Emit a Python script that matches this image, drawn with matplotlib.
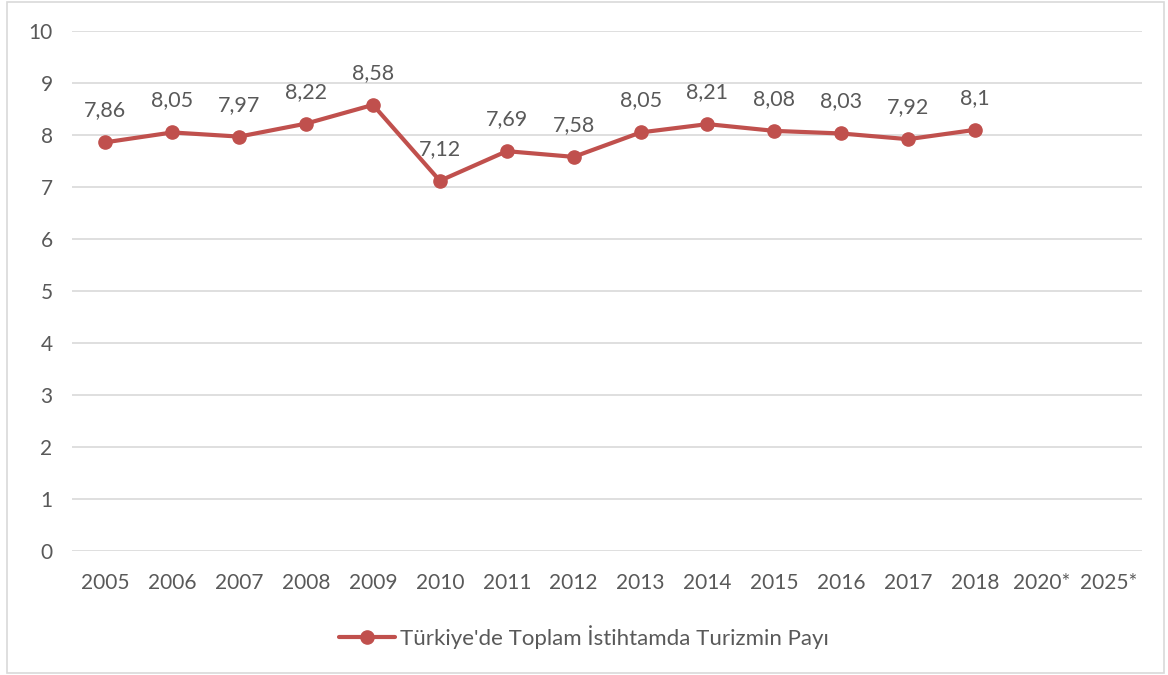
import matplotlib
matplotlib.use("Agg")
import matplotlib.pyplot as plt
import numpy as np
from matplotlib.patches import Rectangle

categories = ["2005", "2006", "2007", "2008", "2009", "2010", "2011", "2012",
              "2013", "2014", "2015", "2016", "2017", "2018", "2020*", "2025*"]
values = [7.86, 8.05, 7.97, 8.22, 8.58, 7.12, 7.69, 7.58,
          8.05, 8.21, 8.08, 8.03, 7.92, 8.1]
labels = ["7,86", "8,05", "7,97", "8,22", "8,58", "7,12", "7,69", "7,58",
          "8,05", "8,21", "8,08", "8,03", "7,92", "8,1"]
series_name = "Türkiye'de Toplam İstihtamda Turizmin Payı"

LINE = "#C0504D"
TEXT = "#595959"
GRID = "#D9D9D9"

plt.rcParams["font.family"] = ["Lato", "DejaVu Sans"]

fig = plt.figure(figsize=(11.68, 6.75), dpi=100)
ax = fig.add_axes([0.0616, 0.1837, 0.9164, 0.7703])

x = np.arange(len(values))
ax.plot(x, values, "-o", color=LINE, linewidth=3.0, markersize=9.5,
        solid_capstyle="round", label=series_name, zorder=3)
for xi, v, lab in zip(x, values, labels):
    ax.annotate(lab, (xi, v), xytext=(0, 23), textcoords="offset points",
                ha="center", va="center", fontsize=15.5, color=TEXT)

ax.set_xlim(-0.5, len(categories) - 0.5)
ax.set_ylim(0, 10)
ax.set_xticks(np.arange(len(categories)))
ax.set_xticklabels(categories)
ax.set_yticks(range(0, 11))
ax.tick_params(axis="both", length=0, labelsize=15, colors=TEXT)
ax.tick_params(axis="x", pad=16)
ax.tick_params(axis="y", pad=14)
ax.grid(axis="y", color=GRID, linewidth=1.2)
ax.set_axisbelow(True)
for s in ax.spines.values():
    s.set_visible(False)

leg = fig.legend(loc="center", bbox_to_anchor=(0.5, 0.056), frameon=False,
                 fontsize=16, handlelength=2.5, handletextpad=0.25)
for t in leg.get_texts():
    t.set_color(TEXT)

fig.patches.append(Rectangle((0.006, 0.003), 0.991, 0.994, transform=fig.transFigure,
                             fill=False, edgecolor="#D9D9D9", linewidth=1.2))

fig.savefig("out.png", dpi=100)
